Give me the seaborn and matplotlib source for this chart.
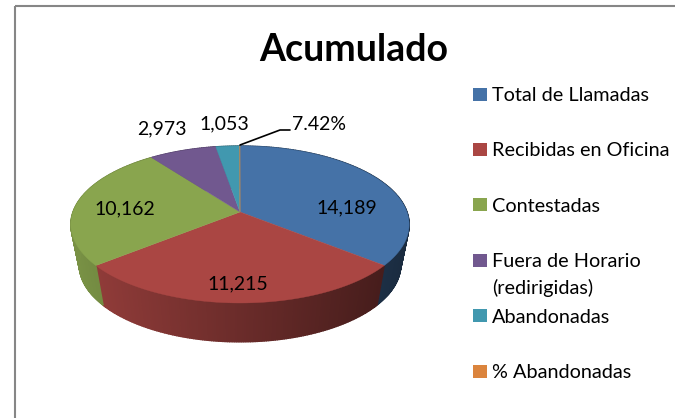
import numpy as np
import matplotlib
matplotlib.use("Agg")
import matplotlib.pyplot as plt
from matplotlib.patches import Rectangle
import seaborn as sns

# Data
categories = ["Total de Llamadas", "Recibidas en Oficina", "Contestadas",
              "Fuera de Horario\n(redirigidas)", "Abandonadas", "% Abandonadas"]
values = [14189, 11215, 10162, 2973, 1053, 7.42]
value_labels = ["14,189", "11,215", "10,162", "2,973", "1,053", "7.42%"]
colors = ["#4572A7", "#AA4643", "#89A54E", "#71588F", "#4198AF", "#DB843D"]

sns.set_theme(style="white")
plt.rcParams['font.family'] = ['Lato', 'DejaVu Sans']
palette = sns.color_palette(colors)

fig = plt.figure(figsize=(6.75, 4.18), dpi=100)
ax = fig.add_axes([0, 0, 1, 1])
ax.set_xlim(0, 675)
ax.set_ylim(418, 0)
ax.axis("off")

# Chart frame, runs off the right and bottom of the picture
ax.add_patch(Rectangle((15, 6), 700, 460, fill=False, edgecolor="#868686", lw=1.5))

# Pie geometry: perspective view of a unit circle, in pixels
cx, cy = 240, 212
k, a, b = 0.159, 76.5, 167
depth, bottom_sx, bottom_sy = 40.7, 0.95, 0.98


def top_rim(theta):
    # theta is clockwise from 12 o'clock
    x, y = np.sin(theta), np.cos(theta)
    w = 1 + k * y
    return cx + b * x / w, cy - a * y / w


def bottom_rim(theta):
    px, py = top_rim(theta)
    return cx + (px - cx) * bottom_sx, cy + (py - cy) * bottom_sy + depth


edges = np.concatenate([[0], np.cumsum(values)]) / np.sum(values) * 2 * np.pi

# Side wall in narrow strips, darker to the right
for i, col in enumerate(palette):
    n = max(2, int((edges[i + 1] - edges[i]) / 0.012))
    t = np.linspace(edges[i], edges[i + 1], n)
    for t0, t1 in zip(t[:-1], t[1:]):
        x0, y0 = top_rim(t0)
        x1, y1 = top_rim(t1)
        x2, y2 = bottom_rim(t1)
        x3, y3 = bottom_rim(t0)
        shade = 0.88 - 0.50 * (x0 - 72) / 336
        c = tuple(v * shade for v in col)
        ax.fill([x0, x1, x2, x3], [y0, y1, y2, y3], facecolor=c, edgecolor=c,
                lw=1.0, zorder=2)

# Top face
for i, col in enumerate(palette):
    t = np.linspace(edges[i], edges[i + 1], 150)
    px, py = top_rim(t)
    ax.fill(np.r_[cx, px], np.r_[cy, py], color=col, lw=0.3, zorder=3)

# Value labels
label_pos = [(347, 208), (238, 284), (125, 209), (162, 129), (224, 124), (319, 124)]
for txt, (x, y) in zip(value_labels, label_pos):
    ax.text(x, y, txt, ha="center", va="center", fontsize=14, color="black", zorder=5)

# Leader line for the small slice
ax.plot([240, 280, 290], [145, 130, 130], color="black", lw=1.2, zorder=4)

ax.text(354, 50, "Acumulado", ha="center", va="center", fontsize=27,
        fontweight="bold", color="black")

# Legend
for i, (name, col) in enumerate(zip(categories, palette)):
    y = 94 + i * 55.4
    ax.add_patch(Rectangle((473, y - 6.5), 14, 13, facecolor=col, edgecolor="none"))
    ax.text(492, y - 7, name, ha="left", va="top", fontsize=14.3, color="black",
            linespacing=1.6)

fig.savefig("out.png", dpi=100)
